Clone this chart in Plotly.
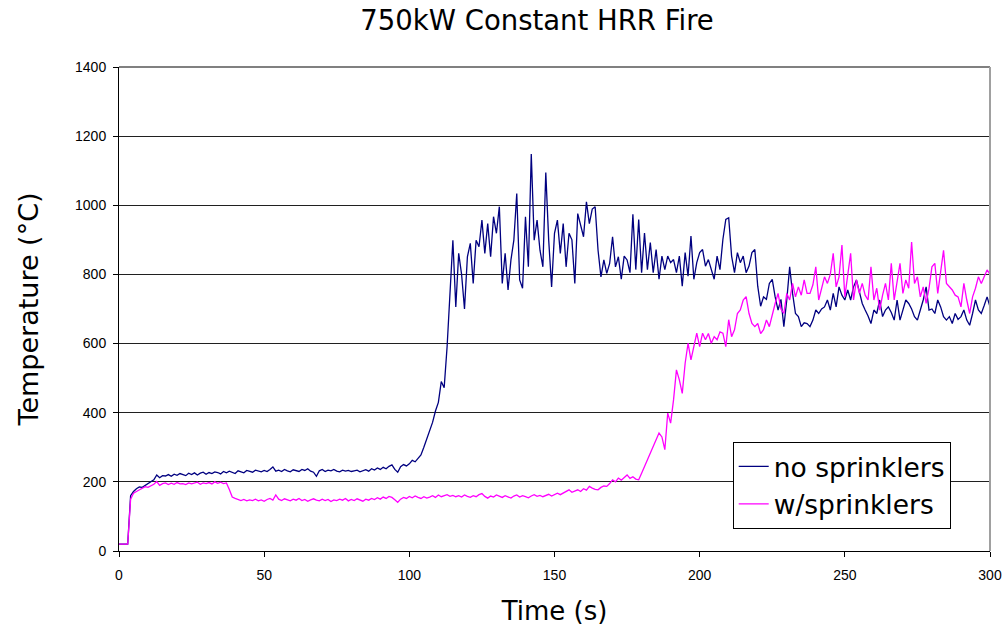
import plotly.graph_objects as go

time_s = list(range(0, 301))

no_sprinklers = [
    20, 20, 20, 20, 160, 172, 180, 185, 184, 190,
    195, 200, 206, 220, 212, 218, 217, 221, 216, 222,
    219, 224, 220, 218, 225, 221, 226, 220, 225, 228,
    222, 227, 224, 229, 227, 223, 230, 226, 231, 228,
    224, 232, 229, 226, 233, 230, 228, 234, 231, 229,
    233, 230, 236, 243, 231, 234, 230, 236, 232, 229,
    235, 233, 230, 236, 233, 238, 231, 228, 216, 232,
    236, 230, 234, 232, 236, 231, 229, 234, 231, 233,
    230, 232, 234, 229, 233, 235, 231, 238, 234, 240,
    236, 242, 238, 245, 249, 236, 228, 244, 250, 246,
    252, 262, 258, 268, 278, 300, 322, 345, 372, 405,
    430, 490, 472, 590, 760, 899, 706, 861, 800, 700,
    851, 890, 774, 899, 880, 957, 861, 947, 851, 967,
    919, 996, 774, 861, 755, 842, 899, 1034, 784, 760,
    967, 822, 1148, 899, 957, 870, 822, 1095, 900, 764,
    919, 957, 861, 947, 822, 919, 900, 774, 976, 940,
    909, 1010, 947, 989, 996, 870, 793, 842, 803, 832,
    909, 822, 851, 786, 853, 842, 805, 974, 814, 959,
    805, 920, 814, 892, 805, 872, 786, 853, 814, 853,
    834, 843, 805, 853, 766, 863, 795, 911, 786, 834,
    863, 872, 824, 843, 814, 786, 853, 814, 901, 959,
    964, 853, 805, 863, 834, 853, 805, 824, 863, 872,
    766, 708, 735, 728, 774, 786, 735, 697, 728, 649,
    726, 822, 745, 687, 678, 649, 660, 658, 649, 668,
    697, 687, 700, 706, 726, 697, 745, 706, 764, 740,
    726, 755, 726, 764, 784, 745, 716, 697, 680, 658,
    697, 687, 726, 678, 697, 706, 690, 668, 726, 668,
    697, 726, 716, 700, 678, 668, 697, 726, 764, 697,
    700, 687, 726, 706, 678, 668, 678, 658, 687, 670,
    678, 697, 668, 653, 687, 726, 697, 687, 710, 735,
    706,
]

with_sprinklers = [
    20, 20, 20, 20, 150, 167, 172, 177, 182, 186,
    184, 188, 193, 201, 190, 195, 197, 192, 196, 193,
    198, 194, 195, 192, 197, 194, 196, 199, 193, 197,
    195, 198, 194, 200, 196, 199, 195, 197, 178, 156,
    152, 150, 146, 149, 145, 148, 146, 150, 145, 148,
    144, 149, 152, 147, 162, 150, 146, 151, 148, 145,
    150, 147, 152, 146, 149, 144, 148, 151, 147, 145,
    150, 146, 149, 143, 148, 146, 150, 147, 152, 145,
    149, 146, 151, 148, 144, 150, 147, 152, 149, 154,
    150, 156, 152, 158, 155, 148, 141, 150, 155, 152,
    158, 154, 159, 155, 152, 157, 153, 156, 160, 155,
    162, 157, 160, 163, 158, 161, 157, 160, 156, 162,
    158, 155, 160, 157, 163, 166, 158, 153, 159, 156,
    162, 158, 155, 160, 157, 153, 159, 162, 156, 160,
    157, 154, 159, 163, 158, 161, 157, 160, 164, 159,
    162, 167, 163, 168, 171, 177, 170, 174, 177, 172,
    180, 176, 187, 182, 178, 177, 184, 188, 187, 195,
    206, 200, 211, 205, 214, 220, 210, 215, 208, 206,
    225, 244, 264, 283, 302, 317, 341, 330, 293, 399,
    370, 437, 524, 495, 456, 543, 601, 553, 591, 630,
    591, 630, 611, 629, 601, 620, 611, 634, 630, 591,
    669, 620, 640, 687, 697, 726, 736, 687, 658, 649,
    658, 629, 640, 668, 649, 687, 716, 745, 700, 687,
    745, 726, 774, 735, 764, 740, 784, 745, 745, 770,
    822, 726, 764, 793, 774, 800, 861, 764, 793, 885,
    735, 803, 861, 726, 784, 745, 774, 740, 726, 822,
    726, 760, 697, 740, 774, 726, 832, 726, 774, 832,
    745, 784, 760, 894, 774, 793, 735, 764, 716, 760,
    822, 832, 745, 803, 870, 774, 764, 755, 740, 735,
    706, 774, 726, 687, 735, 760, 793, 774, 793, 813,
    800,
]

x_ticks = [0, 50, 100, 150, 200, 250, 300]
y_ticks = [0, 200, 400, 600, 800, 1000, 1200, 1400]

title_text = "750kW Constant HRR Fire"
x_title = "Time (s)"
y_title = "Temperature (°C)"
series_names = ["no sprinklers", "w/sprinklers"]

TITLE_FONT = "DejaVu Sans, Open Sans, sans-serif"
TICK_FONT = "Liberation Sans, Arial, sans-serif"

fig = go.Figure()
fig.add_trace(go.Scatter(
    x=time_s, y=no_sprinklers, mode="lines", name=series_names[0],
    line=dict(color="#000080", width=1.3), legendgroup="a",
))
fig.add_trace(go.Scatter(
    x=time_s, y=with_sprinklers, mode="lines", name=series_names[1],
    line=dict(color="#FF00FF", width=1.3), legendgroup="b",
))

fig.update_layout(
    width=1005, height=630,
    margin=dict(l=119, r=15, t=67, b=79),
    paper_bgcolor="white", plot_bgcolor="white",
    title=dict(text=title_text, x=0.48, xref="paper", xanchor="center",
               y=0.968, yref="container", yanchor="middle",
               font=dict(family=TITLE_FONT, size=27.5, color="black")),
    showlegend=True,
    legend=dict(x=0.7046, y=0.2258, xanchor="left", yanchor="top",
                bgcolor="white", bordercolor="black", borderwidth=1,
                font=dict(family=TITLE_FONT, size=26.5, color="black"),
                tracegroupgap=0, itemwidth=30),
)

fig.update_xaxes(
    range=[0, 300], tickvals=x_ticks, ticktext=[str(v) for v in x_ticks],
    showgrid=False, zeroline=False, automargin=False,
    showline=True, linecolor="black", linewidth=1,
    ticks="outside", ticklen=5, tickcolor="black", tickwidth=1,
    ticklabelstandoff=6,
    tickfont=dict(family=TICK_FONT, size=14, color="black"),
    title=dict(text=x_title, font=dict(family=TITLE_FONT, size=26, color="black"), standoff=20),
)
fig.update_yaxes(
    range=[0, 1400], tickvals=y_ticks, ticktext=[str(v) for v in y_ticks],
    showgrid=True, gridcolor="#202020", gridwidth=1, zeroline=False, automargin=False,
    showline=True, linecolor="black", linewidth=1,
    ticks="outside", ticklen=5, tickcolor="black", tickwidth=1,
    ticklabelstandoff=4,
    tickfont=dict(family=TICK_FONT, size=14, color="black"),
    title=dict(text=y_title, font=dict(family=TITLE_FONT, size=27, color="black"), standoff=28),
)

# gray plot-area border on top and right
fig.add_shape(type="line", xref="paper", yref="paper", x0=0, x1=1, y0=1, y1=1,
              line=dict(color="#808080", width=2))
fig.add_shape(type="line", xref="paper", yref="paper", x0=1, x1=1, y0=0, y1=1,
              line=dict(color="#A0A0A0", width=2))

fig.write_html(
    "out.html",
    config={"displayModeBar": False},
    post_script="document.body.style.margin='0';document.body.style.overflow='hidden';",
)
